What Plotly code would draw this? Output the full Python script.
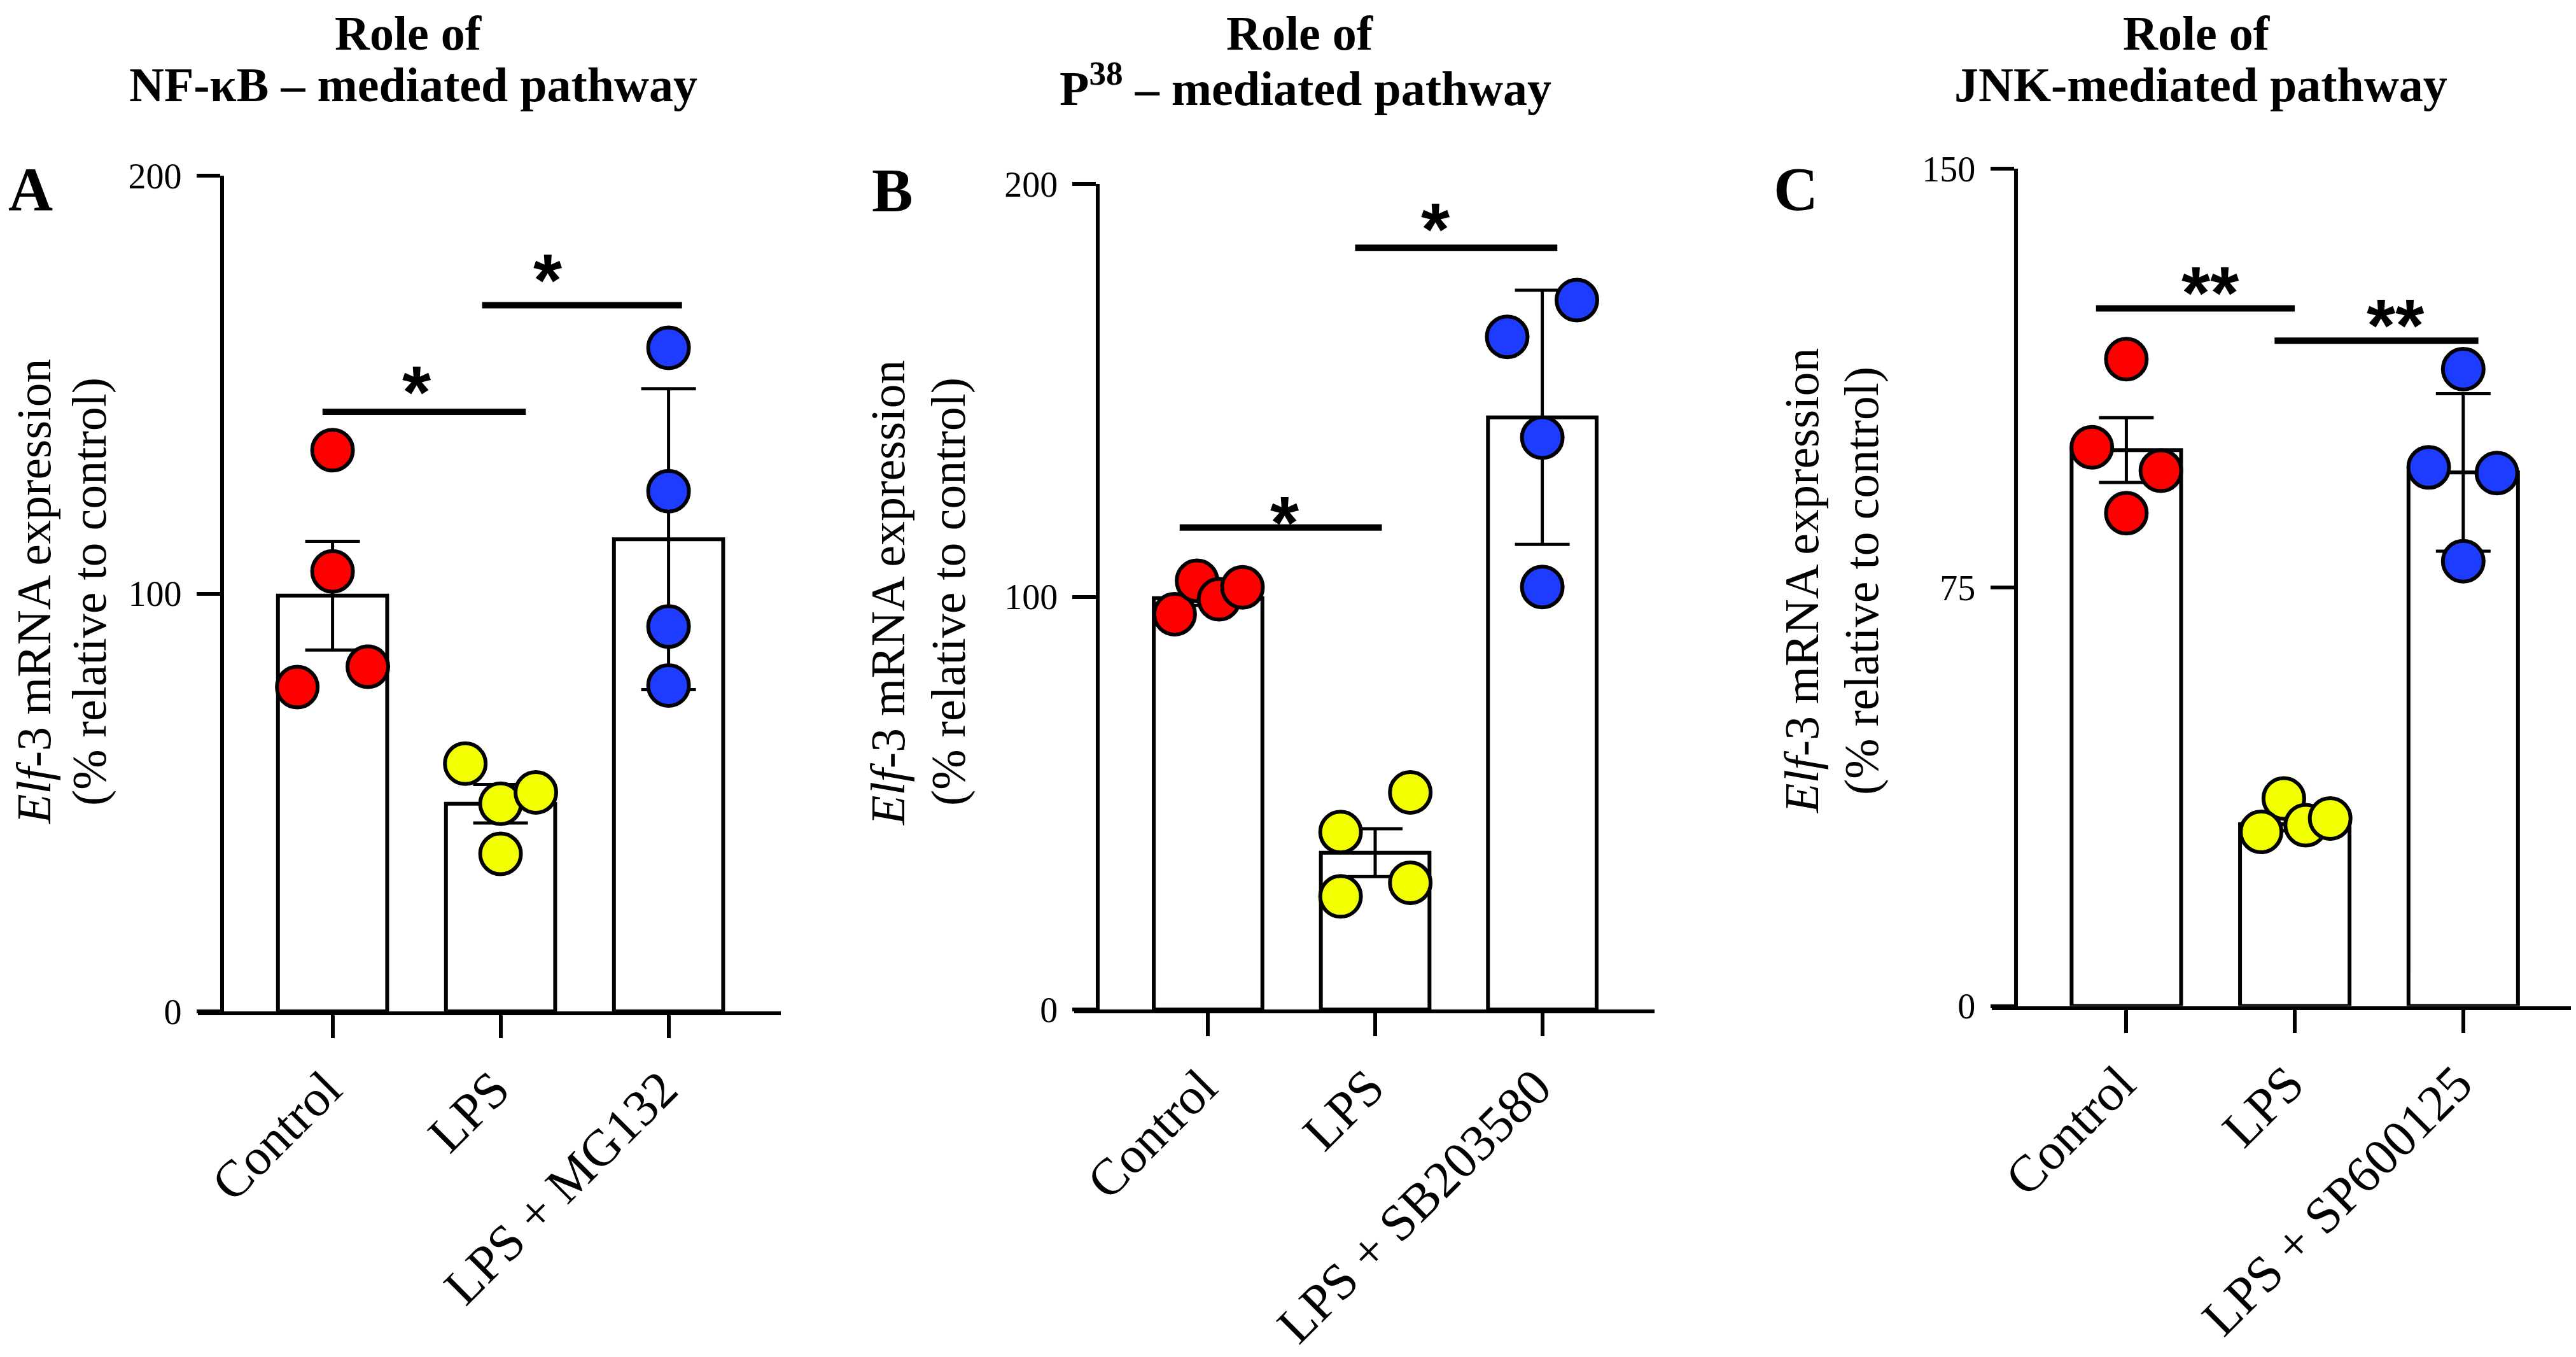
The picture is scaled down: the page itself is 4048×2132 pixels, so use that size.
import plotly.graph_objects as go

W, H = 4048, 2132
OFF = 8  # page body margin in the browser

# ---------------- data ----------------
categories_A = ["Control", "LPS", "LPS + MG132"]
categories_B = ["Control", "LPS", "LPS + SB203580"]
categories_C = ["Control", "LPS", "LPS + SP600125"]

means_A = [99.5, 49.7, 113.0]
errs_A = [13.0, 4.6, 36.0]
points_A = [[134.3, 105.3, 77.6, 82.5], [59.3, 49.7, 52.4, 37.7], [158.8, 124.5, 92.1, 78.0]]
jitter_A = [[0, 0, -0.21, 0.21], [-0.21, 0, 0.21, 0], [0, 0, 0, 0]]

means_B = [99.7, 38.0, 143.5]
errs_B = [1.8, 5.8, 30.8]
points_B = [[95.8, 103.9, 99.4, 102.3], [43.0, 52.6, 27.4, 30.7], [163.0, 171.9, 138.6, 102.4]]
jitter_B = [[-0.20, -0.066, 0.066, 0.206], [-0.207, 0.21, -0.207, 0.21], [-0.21, 0.207, 0, 0]]

means_C = [99.6, 32.6, 95.6]
errs_C = [5.8, 1.2, 14.1]
points_C = [[115.9, 100.1, 95.9, 88.3], [37.2, 31.2, 32.4, 33.6], [114.1, 96.5, 95.5, 79.7]]
jitter_C = [[0, -0.205, 0.205, 0], [-0.065, -0.2, 0.065, 0.21], [0, -0.205, 0.2, 0]]

ticks_A = [0, 100, 200]
ticks_B = [0, 100, 200]
ticks_C = [0, 75, 150]

# significance brackets: [x_start, x_end, y]
sig_lines_A = [[-0.06, 1.15, 143.5], [0.89, 2.08, 169.0]]
sig_lines_B = [[-0.17, 1.04, 116.8], [0.88, 2.09, 184.6]]
sig_lines_C = [[-0.18, 1.00, 125.0], [0.88, 2.09, 119.2]]
# stars: [text, x, y(center)]
stars_A = [["*", 0.50, 150.6], ["*", 1.28, 177.4]]
stars_B = [["*", 0.46, 120.5], ["*", 1.36, 191.6]]
stars_C = [["**", 0.50, 129.6], ["**", 1.60, 123.8]]

titles = [["Role of", "NF-κB – mediated pathway"],
          ["Role of", "P<sup>38</sup> – mediated pathway"],
          ["Role of", "JNK-mediated pathway"]]
letters = ["A", "B", "C"]
ylabel_1 = "<i>Elf</i>-3 mRNA expression"
ylabel_2 = "(% relative to control)"

group_colors = ["#FF0000", "#F2FF00", "#1E3CFF"]

# ---------------- layout geometry (screen pixels) ----------------
geo = [
    dict(cat0=522.6, step=264.0, y0=1589.0, ytop=276.0, yax=348.7,
         t1x=642, t2=(649, 133), let=(48, 297), yl1=(53, 930), yl2=(140, 930)),
    dict(cat0=1898.4, step=262.6, y0=1586.0, ytop=289.4, yax=1725.4,
         t1x=2043, t2=(2052, 133), let=(1402, 300), yl1=(1395, 932), yl2=(1490, 930)),
    dict(cat0=3341.4, step=264.7, y0=1580.6, ytop=265.2, yax=3167.5,
         t1x=3452, t2=(3458, 133), let=(2822, 297), yl1=(2831, 913), yl2=(2925, 913)),
]
XR = [-0.80, 2.67]

panels = [
    (categories_A, means_A, errs_A, points_A, jitter_A, ticks_A, sig_lines_A, stars_A),
    (categories_B, means_B, errs_B, points_B, jitter_B, ticks_B, sig_lines_B, stars_B),
    (categories_C, means_C, errs_C, points_C, jitter_C, ticks_C, sig_lines_C, stars_C),
]

SERIF = "Liberation Serif"
fig = go.Figure()
shapes = []
annotations = []
layout = {}

def px(xp):
    return (xp - OFF) / W

def py(yp):
    return 1 - (yp - OFF) / H

for i, (cats, means, errs, pts, jit, tks, sigs, stars) in enumerate(panels):
    g = geo[i]
    n = "" if i == 0 else str(i + 1)
    xa, ya = "x" + n, "y" + n
    d0 = px(g["cat0"] + XR[0] * g["step"])
    d1 = min(1.0, px(g["cat0"] + XR[1] * g["step"]))
    yd0 = py(g["y0"])
    yd1 = py(g["ytop"])
    xidx = list(range(len(cats)))

    fig.add_trace(go.Bar(
        x=xidx, y=means, width=0.65, xaxis=xa, yaxis=ya,
        marker=dict(color="white", line=dict(color="black", width=6)),
        error_y=dict(type="data", array=errs, visible=True, color="black",
                     thickness=5, width=43),
        showlegend=False, hoverinfo="skip"))
    for k in range(len(cats)):
        fig.add_trace(go.Scatter(
            x=[k + j for j in jit[k]], y=pts[k], mode="markers",
            xaxis=xa, yaxis=ya, cliponaxis=False,
            marker=dict(size=64, color=group_colors[k],
                        line=dict(color="black", width=6)),
            showlegend=False, hoverinfo="skip"))

    layout["xaxis" + n] = dict(
        domain=[d0, d1], range=XR, anchor=ya, showline=True, linewidth=6,
        linecolor="black", ticks="outside", ticklen=36, tickwidth=6,
        tickcolor="black", tickvals=xidx, ticktext=cats, tickangle=-45,
        ticklabelshift=-10,
        tickfont=dict(family=SERIF, size=81, color="black"), automargin=False,
        showgrid=False, zeroline=False, fixedrange=True)
    layout["yaxis" + n] = dict(
        domain=[yd0, yd1], range=[tks[0], tks[-1]], anchor="free",
        position=px(g["yax"]), showline=True, linewidth=6, linecolor="black",
        ticks="outside", ticklen=37, tickwidth=6, tickcolor="black",
        tickvals=tks, tickfont=dict(family=SERIF, size=56, color="black"),
        ticklabelstandoff=12, automargin=False,
        showgrid=False, zeroline=False, fixedrange=True)

    for (x0, x1, yv) in sigs:
        shapes.append(dict(type="line", xref=xa, yref=ya, x0=x0, x1=x1,
                           y0=yv, y1=yv, line=dict(color="black", width=10),
                           layer="above"))
    for (txt, xs, ys) in stars:
        annotations.append(dict(text="<b>" + txt + "</b>", x=xs, y=ys, xref=xa, yref=ya,
                                showarrow=False, xanchor="center", yanchor="middle",
                                yshift=-17,
                                font=dict(family="Liberation Sans", size=116, color="black")))

    annotations.append(dict(text="<b>" + titles[i][0] + "</b>", x=px(g["t1x"]), y=1.0,
                            xref="paper", yref="paper", showarrow=False,
                            xanchor="center", yanchor="top",
                            font=dict(family=SERIF, size=76, color="black")))
    annotations.append(dict(text="<b>" + titles[i][1] + "</b>", x=px(g["t2"][0]), y=py(g["t2"][1]),
                            xref="paper", yref="paper", showarrow=False,
                            xanchor="center", yanchor="middle",
                            font=dict(family=SERIF, size=76, color="black")))
    annotations.append(dict(text="<b>" + letters[i] + "</b>", x=px(g["let"][0]), y=py(g["let"][1]),
                            xref="paper", yref="paper", showarrow=False,
                            xanchor="center", yanchor="middle",
                            font=dict(family=SERIF, size=97, color="black")))
    annotations.append(dict(text=ylabel_1, x=px(g["yl1"][0]), y=py(g["yl1"][1]),
                            xref="paper", yref="paper", showarrow=False, textangle=-90,
                            xanchor="center", yanchor="middle",
                            font=dict(family=SERIF, size=76, color="black")))
    annotations.append(dict(text=ylabel_2, x=px(g["yl2"][0]), y=py(g["yl2"][1]),
                            xref="paper", yref="paper", showarrow=False, textangle=-90,
                            xanchor="center", yanchor="middle",
                            font=dict(family=SERIF, size=76, color="black")))

fig.update_layout(
    width=W, height=H, margin=dict(l=0, r=0, t=0, b=0, pad=0, autoexpand=False),
    paper_bgcolor="white", plot_bgcolor="white",
    shapes=shapes, annotations=annotations, showlegend=False, **layout)

fig.write_html("out.html")
